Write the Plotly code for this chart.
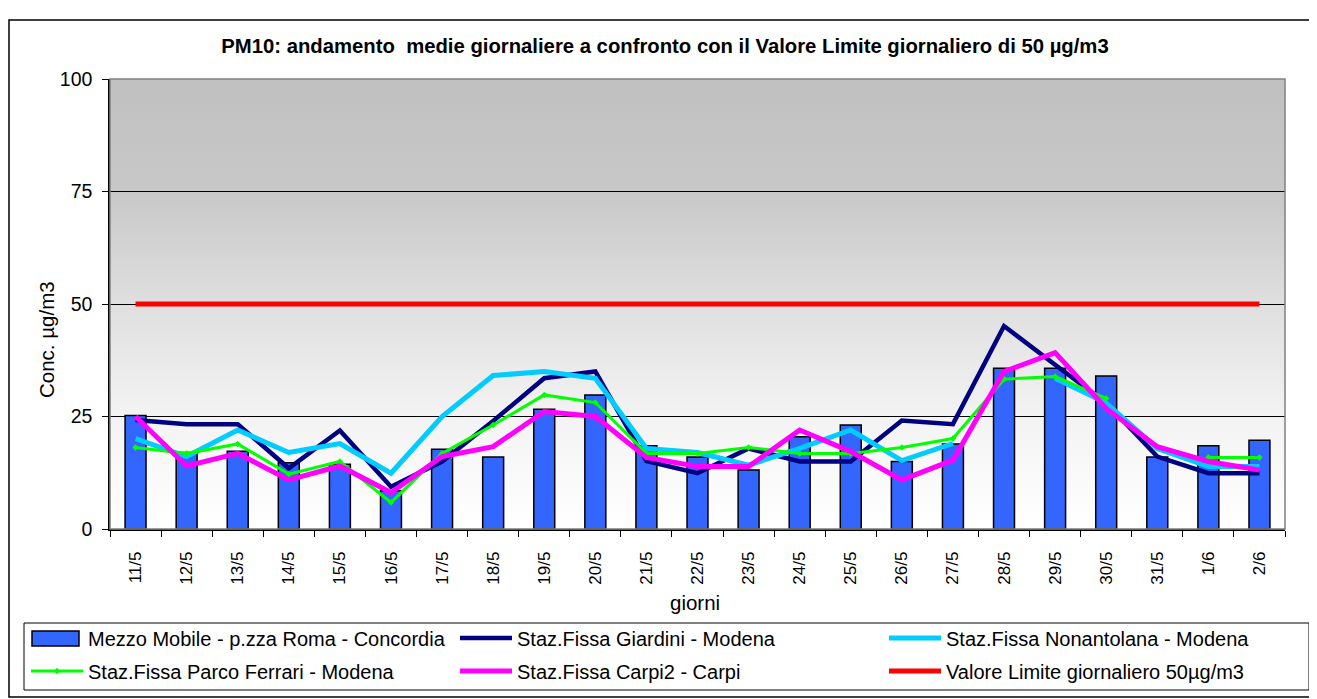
"""
PM10 daily averages compared with the 50 ug/m3 daily limit value.
"""

import base64

import plotly.graph_objects as go

days = ["11/5", "12/5", "13/5", "14/5", "15/5", "16/5", "17/5", "18/5",
        "19/5", "20/5", "21/5", "22/5", "23/5", "24/5", "25/5", "26/5",
        "27/5", "28/5", "29/5", "30/5", "31/5", "1/6", "2/6"]

mezzo_mobile = [25.2, 17.0, 17.3, 14.7, 14.4, 8.5, 17.7, 16.0, 26.6, 29.8,
                18.5, 16.0, 13.1, 20.5, 23.1, 15.0, 18.9, 35.7, 35.7, 34.0,
                16.0, 18.5, 19.7]
giardini = [24.2, 23.3, 23.3, 13.5, 21.9, 9.4, 15.0, 24.0, 33.5, 35.0,
            15.1, 12.4, 17.9, 15.0, 15.0, 24.1, 23.3, 45.1, 36.5, 28.0,
            16.1, 12.4, 12.4]
nonantolana = [20.1, 16.1, 22.0, 17.0, 19.0, 12.4, 25.0, 34.1, 35.0, 33.5,
               17.9, 17.0, 14.2, 17.9, 22.0, 15.2, 19.0, None, 33.5, 28.0,
               17.9, 13.9, 13.9]
parco_ferrari = [18.1, 16.8, 18.9, 12.2, 15.0, 5.9, 16.8, 23.1, 29.8, 28.1,
                 16.8, 16.8, 18.1, 16.8, 16.8, 18.1, 20.1, 33.3, 33.9, 29.0,
                 None, 15.9, 15.9]
carpi = [25.0, 14.0, 16.8, 10.9, 14.0, 8.1, 16.1, 18.3, 26.1, 25.0,
         15.9, 13.9, 13.9, 22.0, 17.2, 10.9, 15.3, 35.0, 39.2, 26.8,
         18.3, 15.0, 13.1]
limite = [50] * len(days)

# the page body has an 8px margin, so the figure is drawn 8px in
OFF = 8
W, H = 1317 - OFF, 699 - OFF
L, R, T, B = 102, 32, 71, 170
PW, PH = W - L - R, H - T - B


def px(x):
    # page x -> paper x
    return (x - OFF - L) / PW


def py(y):
    # page y -> paper y
    return (H - B - (y - OFF)) / PH


font = "Liberation Sans, Arial, sans-serif"
BLUE = "#3366ff"

# plot area background: vertical grey-to-white gradient
svg = (
    "<svg xmlns='http://www.w3.org/2000/svg' width='10' height='100' "
    "preserveAspectRatio='none'><defs><linearGradient id='g' x1='0' y1='0' "
    "x2='0' y2='1'><stop offset='0' stop-color='#c0c0c0'/>"
    "<stop offset='0.25' stop-color='#c8c8c8'/>"
    "<stop offset='0.5' stop-color='#dfdfdf'/>"
    "<stop offset='0.75' stop-color='#f3f3f3'/>"
    "<stop offset='1' stop-color='#ffffff'/></linearGradient></defs>"
    "<rect width='10' height='100' fill='url(#g)'/></svg>"
)
bg = "data:image/svg+xml;base64," + base64.b64encode(svg.encode()).decode()

fig = go.Figure()
fig.add_trace(go.Bar(
    x=days, y=mezzo_mobile, name="Mezzo Mobile - p.zza Roma - Concordia",
    marker=dict(color=BLUE, line=dict(color="black", width=1.5)),
    width=0.41, showlegend=False,
))
# legend-only entry for the bars (wide key box drawn as a shape)
fig.add_trace(go.Bar(
    x=[days[0]], y=[None], name="Mezzo Mobile - p.zza Roma - Concordia",
    marker=dict(color=BLUE, line=dict(width=0)), legend="legend",
    hoverinfo="skip",
))

lines = [
    (giardini, "Staz.Fissa Giardini - Modena", "#000080", 4.5, "legend2"),
    (nonantolana, "Staz.Fissa Nonantolana - Modena", "#00ccff", 5, "legend3"),
    (parco_ferrari, "Staz.Fissa Parco Ferrari - Modena", "#00ff00", 3,
     "legend4"),
    (carpi, "Staz.Fissa Carpi2 - Carpi", "#ff00ff", 5, "legend5"),
    (limite, "Valore Limite giornaliero 50µg/m3", "#ff0000", 5, "legend6"),
]
for vals, name, color, w, leg in lines:
    mode = "lines+markers" if color == "#00ff00" else "lines"
    fig.add_trace(go.Scatter(
        x=days, y=vals, name=name, mode=mode, legend=leg,
        line=dict(color=color, width=w),
        marker=dict(symbol="diamond", size=5, color=color),
    ))

# one legend per entry so that the 3x2 grid matches the original
IW = 52
text_x = [89, 518, 947]
row_y = [638, 671]
legends = {}
for i, key in enumerate(["legend", "legend2", "legend3",
                         "legend4", "legend5", "legend6"]):
    legends[key] = dict(
        x=px(text_x[i % 3] - IW - 11), xanchor="left",
        y=py(row_y[i // 3]), yanchor="middle",
        orientation="h", bgcolor="rgba(0,0,0,0)", borderwidth=0,
        itemwidth=IW, font=dict(size=20),
    )

fig.update_layout(
    width=W, height=H,
    margin=dict(l=L, r=R, t=T, b=B, autoexpand=False),
    paper_bgcolor="white",
    plot_bgcolor="rgba(0,0,0,0)",
    font=dict(family=font, color="black", size=19),
    barmode="overlay",
    title=dict(
        text="<b>PM10: andamento  medie giornaliere a confronto con il "
             "Valore Limite giornaliero di 50 µg/m3</b>",
        x=px(665), xref="paper", xanchor="center",
        y=1 - (46 - OFF) / H, yanchor="middle",
        font=dict(size=20.3),
    ),
    showlegend=True,
    **legends,
    images=[dict(
        source=bg, xref="paper", yref="paper", x=0, y=1, sizex=1, sizey=1,
        xanchor="left", yanchor="top", sizing="stretch", layer="below",
    )],
    shapes=[
        # plot area frame
        dict(type="rect", xref="paper", yref="paper", x0=0, x1=1, y0=0, y1=1,
             line=dict(color="#808080", width=1.5), layer="above"),
        # chart frame
        dict(type="rect", xref="paper", yref="paper", x0=px(9), x1=px(1315),
             y0=py(20), y1=py(697), line=dict(color="black", width=1.5)),
        # legend frame
        dict(type="rect", xref="paper", yref="paper", x0=px(24), x1=px(1309),
             y0=py(623), y1=py(690), line=dict(color="black", width=1)),
        # bar key
        dict(type="rect", xref="paper", yref="paper", x0=px(32), x1=px(79),
             y0=py(631), y1=py(646), fillcolor=BLUE,
             line=dict(color="black", width=1.5)),
    ],
    annotations=[
        dict(text="Conc. µg/m3", textangle=-90, xref="paper", yref="paper",
             x=px(46), y=py(340), xanchor="center", yanchor="middle",
             showarrow=False, font=dict(size=20.5)),
        dict(text="giorni", xref="paper", yref="paper",
             x=px(695), y=py(602), xanchor="center", yanchor="middle",
             showarrow=False, font=dict(size=20.5)),
    ],
)
fig.update_xaxes(
    type="category", categoryorder="array", categoryarray=days,
    range=[-0.5, len(days) - 0.5], tickangle=-90, tickson="boundaries",
    ticks="outside", ticklen=6, tickcolor="black",
    showline=True, linecolor="black", linewidth=1.5,
    showgrid=False, tickfont=dict(size=17), ticklabelstandoff=14,
)
fig.update_yaxes(
    range=[0, 100], tickvals=[0, 25, 50, 75, 100],
    ticks="outside", ticklen=6, tickcolor="black",
    showline=True, linecolor="black", linewidth=1.5,
    showgrid=True, gridcolor="black", gridwidth=1,
    zeroline=False, tickfont=dict(size=19.5), ticklabelstandoff=6,
)

fig.write_html("out.html")
